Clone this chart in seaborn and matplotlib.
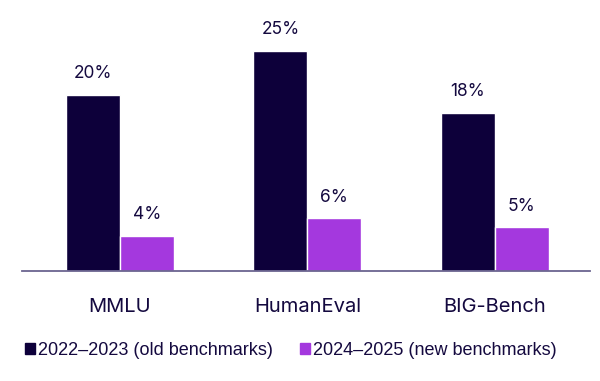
import pandas as pd
import matplotlib.pyplot as plt
import seaborn as sns
from matplotlib.patches import Patch

benchmarks = ["MMLU", "HumanEval", "BIG-Bench"]
periods = ["2022–2023 (old benchmarks)", "2024–2025 (new benchmarks)"]
old_vals = [20, 25, 18]
new_vals = [4, 6, 5]

colors = ["#0d003a", "#a438de"]
text_color = "#14093f"

df = pd.DataFrame({
    "Benchmark": benchmarks * 2,
    "Period": [periods[0]] * 3 + [periods[1]] * 3,
    "Value": old_vals + new_vals,
})

sns.set_theme(style="white")
plt.rcParams['font.family'] = ['Inter', 'DejaVu Sans']

fig = plt.figure(figsize=(6, 3.81), dpi=100)
ax = fig.add_axes([0.0367, 0.2887, 0.9463, 0.6588])

sns.barplot(data=df, x="Benchmark", y="Value", hue="Period", palette=colors,
            width=0.576, saturation=1, ax=ax, legend=False)

for cont in ax.containers:
    labels = [f"{v:.0f}%" for v in cont.datavalues]
    ax.bar_label(cont, labels=labels, padding=9, fontsize=12.5, color=text_color)

ax.set_ylim(0, 28.52)
ax.set_xlim(-0.523, 2.507)
ax.set_xlabel("")
ax.set_ylabel("")
ax.set_yticks([])
ax.tick_params(axis="x", length=0, labelsize=14.5, labelcolor=text_color, pad=19.5)
for s in ["top", "right", "left"]:
    ax.spines[s].set_visible(False)
ax.spines["bottom"].set_color("#6b6590")
ax.spines["bottom"].set_linewidth(1.3)

handles = [Patch(color=c, label=p) for c, p in zip(colors, periods)]
fig.legend(handles=handles, loc="center left", bbox_to_anchor=(0.015, 0.081),
           ncol=2, frameon=False, handlelength=0.55, handleheight=0.55,
           handletextpad=0.17, columnspacing=1.5, labelcolor=text_color,
           prop={"family": "Liberation Sans", "size": 13})

fig.savefig("out.png", dpi=100)
